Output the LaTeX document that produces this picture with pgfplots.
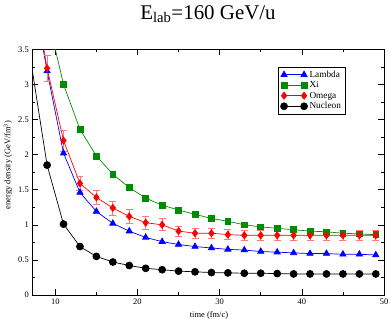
\documentclass[border=0pt]{standalone}
\usepackage{fontspec}
\setmainfont{Liberation Serif}
\usepackage{pgfplots}
\pgfplotsset{compat=1.18}
\definecolor{xigreen}{RGB}{0,140,0}
\definecolor{errred}{RGB}{255,120,120}
\begin{document}
\begin{tikzpicture}
\useasboundingbox (-32.3bp,-24bp) rectangle (357.7bp,295bp);
\begin{axis}[
  at={(0,0)}, anchor=south west,
  scale only axis, width=351.7bp, height=245.7bp,
  xmin=7.2, xmax=50, ymin=0, ymax=3.5,
  xtick={10,20,30,40,50}, minor x tick num=1,
  ytick={0,0.5,1,1.5,2,2.5,3,3.5}, minor y tick num=1,
  tick align=inside,
  major tick length=6bp, minor tick length=3bp,
  axis line style={line width=0.8pt},
  every tick/.style={line width=0.6pt, black},
  /pgf/number format/assume math mode=true,
  tick label style={font=\fontsize{8.5}{9}\selectfont},
  xticklabel style={yshift=0bp},
  legend style={at={(rel axis cs:0.6995,0.929)}, anchor=north west,
    font=\fontsize{9.3}{10}\selectfont, draw=black, line width=0.5pt,
    inner xsep=2bp, inner ysep=1.8bp, row sep=-1.2bp},
  legend cell align=left,
  legend image code/.code={\draw[#1] plot coordinates {(0bp,0bp) (20bp,0bp)};},
  clip=true,
]
\addplot[blue, line width=0.7pt, mark=triangle*, mark size=3.6bp, mark options={solid}]
coordinates {(7,4.5) (9,3.19) (11,2.02) (13,1.46) (15,1.19) (17,1.02) (19,0.91) (21,0.82)
(23,0.76) (25,0.72) (27,0.69) (29,0.67) (31,0.65) (33,0.64) (35,0.62) (37,0.61)
(39,0.60) (41,0.59) (43,0.59) (45,0.58) (47,0.58) (49,0.57)};
\addlegendentry{Lambda}
\addplot[xigreen, line width=0.7pt, mark=square*, mark size=2.9bp, mark options={solid}]
coordinates {(9,4.0) (11,3.00) (13,2.36) (15,1.98) (17,1.72) (19,1.53) (21,1.38)
(23,1.28) (25,1.21) (27,1.15) (29,1.09) (31,1.05) (33,1.00) (35,0.97) (37,0.95)
(39,0.93) (41,0.91) (43,0.90) (45,0.88) (47,0.87) (49,0.86)};
\addlegendentry{Xi}
\addplot[red, line width=0.7pt, mark=diamond*, mark size=3.6bp, mark options={solid},
  error bars/.cd, y dir=both, y explicit,
  error bar style={errred, line width=0.7pt},
  error mark options={rotate=90, mark size=3.5bp, errred, line width=0.7pt}]
coordinates {(7,4.6) +- (0,0.2) (9,3.23) +- (0,0.18) (11,2.20) +- (0,0.15) (13,1.59) +- (0,0.10)
(15,1.39) +- (0,0.10) (17,1.24) +- (0,0.10) (19,1.12) +- (0,0.095) (21,1.03) +- (0,0.09)
(23,1.00) +- (0,0.085) (25,0.91) +- (0,0.075) (27,0.88) +- (0,0.075) (29,0.88) +- (0,0.07)
(31,0.86) +- (0,0.07) (33,0.85) +- (0,0.07) (35,0.85) +- (0,0.07) (37,0.85) +- (0,0.07)
(39,0.85) +- (0,0.07) (41,0.85) +- (0,0.07) (43,0.85) +- (0,0.07) (45,0.85) +- (0,0.07)
(47,0.85) +- (0,0.07) (49,0.85) +- (0,0.07)};
\addlegendentry{Omega}
\addplot[black, line width=0.7pt, mark=*, mark size=3.5bp, mark options={solid}]
coordinates {(7,3.35) (9,1.85) (11,1.01) (13,0.69) (15,0.55) (17,0.47) (19,0.42) (21,0.38)
(23,0.36) (25,0.34) (27,0.33) (29,0.32) (31,0.315) (33,0.31) (35,0.31) (37,0.305)
(39,0.30) (41,0.30) (43,0.30) (45,0.30) (47,0.30) (49,0.30)};
\addlegendentry{Nucleon}
\end{axis}
\node[anchor=base, font=\fontsize{21}{24}\selectfont] at (175.7bp,275.7bp) {E\textsubscript{lab}=160 GeV/u};
\node[anchor=center, font=\fontsize{8.5}{9}\selectfont] at (176.7bp,-20bp) {time (fm/c)};
\node[anchor=center, rotate=90, font=\fontsize{8.5}{9}\selectfont] at (-24.3bp,130bp) {energy density (GeV/fm\textsuperscript{3})};
\end{tikzpicture}
\end{document}
